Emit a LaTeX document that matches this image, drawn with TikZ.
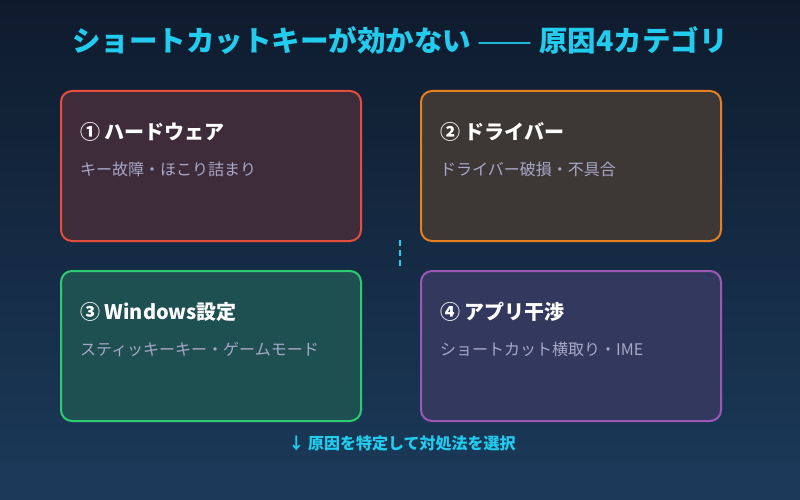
\documentclass[tikz,border=0pt]{standalone}
\usepackage{fontspec}
\setmainfont{Noto Sans CJK JP}
\usetikzlibrary{positioning}
\definecolor{bgtop}{HTML}{0F1B2D}
\definecolor{bgbot}{HTML}{1B3A5A}
\definecolor{cyanT}{HTML}{22CCEE}
\definecolor{subT}{HTML}{A8A8C8}
\definecolor{redB}{HTML}{E74C3C}
\definecolor{redF}{HTML}{3E2C3A}
\definecolor{orgB}{HTML}{E67E22}
\definecolor{orgF}{HTML}{3D3836}
\definecolor{grnB}{HTML}{2ECC71}
\definecolor{grnF}{HTML}{1E4F51}
\definecolor{purB}{HTML}{9B59B6}
\definecolor{purF}{HTML}{33385E}
\tikzset{
  card/.style={draw, line width=2pt, rounded corners=11pt, minimum width=300pt, minimum height=150pt, inner sep=0pt, anchor=north west},
  cardtitle/.style={anchor=west, inner sep=0pt, text=white, font=\fontsize{20}{22}\selectfont\bfseries},
  cardsub/.style={anchor=west, inner sep=0pt, text=subT, font=\fontsize{16}{18}\selectfont},
}
\begin{document}
\begin{tikzpicture}[x=1pt,y=-1pt]
\useasboundingbox (0,0) rectangle (800,500);
\shade[top color=bgtop, bottom color=bgbot] (0,0) rectangle (800,500);
\node[anchor=center, inner sep=0pt, text=cyanT, font=\fontsize{28.5}{31}\selectfont\bfseries] (title) at (400,40) {ショートカットキーが効かない {\mdseries\scalebox{1.15}[1]{——}} 原因4カテゴリ};
\node[card, draw=redB, fill=redF] (b1) at (60,90) {};
\node[card, draw=orgB, fill=orgF] (b2) at (420,90) {};
\node[card, draw=grnB, fill=grnF] (b3) at (60,270) {};
\node[card, draw=purB, fill=purF] (b4) at (420,270) {};
\node[cardtitle] (t1) at (80,132) {① ハードウェア};
\node[cardsub] (s1) at (80,169) {キー故障・ほこり詰まり};
\node[cardtitle] (t2) at (440,132) {② ドライバー};
\node[cardsub] (s2) at (440,169) {ドライバー破損・不具合};
\node[cardtitle] (t3) at (80,312) {③ Windows設定};
\node[cardsub] (s3) at (80,349) {スティッキーキー・ゲームモード};
\node[cardtitle] (t4) at (440,312) {④ アプリ干渉};
\node[cardsub] (s4) at (440,349) {ショートカット横取り・IME};
\coordinate (d1) at (400,240);
\coordinate (d2) at (400,266);
\draw[cyanT, line width=2pt, dash pattern=on 6pt off 4pt] (d1) -- (d2);
\node[anchor=center, inner sep=0pt, text=cyanT, font=\fontsize{16}{18}\selectfont\bfseries] (foot) at (402,443) {↓ 原因を特定して対処法を選択};
\end{tikzpicture}
\end{document}
